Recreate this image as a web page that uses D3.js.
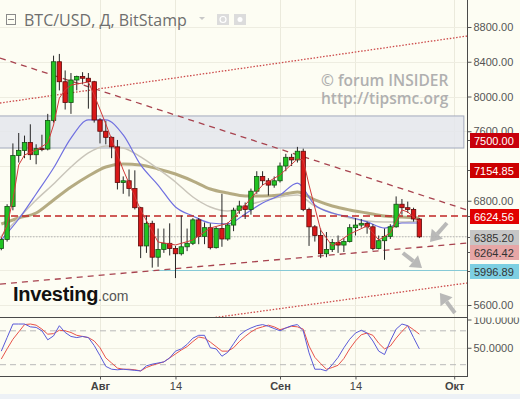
<!DOCTYPE html>
<html>
<head>
<meta charset="utf-8">
<script src="https://cdn.jsdelivr.net/npm/d3@7"></script>
<style>
  html, body { margin: 0; padding: 0; background: #fdfdf3; }
  svg { display: block; font-family: "Liberation Sans", Arial, sans-serif; }
</style>
</head>
<body>
<div id="chart"></div>
<script>
// ---- data (BTC/USD daily, BitStamp, 15 Jul - 25 Sep 2018) ----
var firstDay = "2018-07-15";
var lastDay = "2018-09-25";

var open = [6250,6355,6735,7320,7380,7470,7330,7400,7395,7725,8400,8170,7930,8190,8230,8210,8170,
  7730,7600,7530,7420,7010,7030,6940,6720,6280,6540,6150,6240,6310,6250,6190,6270,6310,6580,6390,6490,6260,6480,6360,6520,6690,6740,6700,6910,7080,7030,6980,
  7030,7200,7300,7270,7370,6700,6500,6400,6190,6240,6320,6290,6330,6490,6520,6540,6500,6250,6340,6390,6500,6760,6720,6700,6590];
var high = [6380,6760,7460,7580,7550,7680,7450,7560,7800,8470,8490,8300,8270,8240,8280,8270,8180,
  7750,7720,7540,7500,7080,7160,7150,6730,6630,6570,6480,6480,6540,6280,6630,6480,6600,6600,6550,6540,6500,6880,6550,6720,6800,6780,6940,7140,7140,7060,7080,
  7240,7340,7340,7420,7400,6720,6520,6480,6440,6360,6400,6370,6530,6600,6590,6560,6530,6400,6480,6530,6850,6820,6790,6720,6600];
var low = [6230,6330,6690,7240,7290,7270,7220,7370,7380,7700,8070,7850,7800,8070,8140,7860,7700,
  7460,7450,7290,6930,6880,6850,6700,6140,6200,6030,6040,6200,6170,5910,6170,6220,6290,6300,6300,6240,6250,6270,6340,6450,6650,6590,6640,6880,6980,6860,6950,
  7010,7140,7200,7240,6680,6280,6330,6140,6150,6210,6200,6210,6320,6400,6490,6420,6230,6240,6120,6360,6490,6640,6660,6560,6370];
var close = [6355,6735,7320,7380,7470,7330,7400,7395,7725,8400,8170,7930,8190,8230,8210,8170,7730,
  7600,7530,7420,7010,7030,6940,6720,6280,6540,6150,6240,6310,6250,6190,6270,6310,6580,6390,6490,6260,6480,6360,6520,6690,6740,6700,6910,7080,7030,6980,7030,
  7200,7300,7270,7370,6700,6500,6400,6190,6240,6320,6290,6330,6490,6520,6540,6500,6250,6340,6390,6500,6760,6720,6700,6590,6385];

// moving averages
var maFast = [["2018-07-15",6371],["2018-07-16",6521],["2018-07-17",6809],["2018-07-18",7212],["2018-07-19",7327],
  ["2018-07-21",7384],["2018-07-23",7465],["2018-07-24",7672],["2018-07-25",7983],["2018-07-26",8075],["2018-07-27",8132],
  ["2018-07-30",8167],["2018-07-31",8017],["2018-08-02",7684],["2018-08-05",7154],["2018-08-08",6694],["2018-08-11",6325],
  ["2018-08-14",6291],["2018-08-17",6348],["2018-08-20",6486],["2018-08-23",6540],["2018-08-26",6751],["2018-08-29",6981],
  ["2018-09-01",7097],["2018-09-04",7281],["2018-09-05",7269],["2018-09-06",6981],["2018-09-08",6463],["2018-09-10",6279],
  ["2018-09-13",6417],["2018-09-16",6510],["2018-09-18",6348],["2018-09-20",6429],["2018-09-22",6694],["2018-09-23",6671],["2018-09-25",6556]];
var maBlue = [["2018-07-15",6348],["2018-07-18",6590],["2018-07-21",6878],["2018-07-24",7177],["2018-07-27",7522],
  ["2018-07-30",7730],["2018-08-02",7730],["2018-08-05",7557],["2018-08-08",7212],["2018-08-11",6981],["2018-08-14",6728],
  ["2018-08-17",6625],["2018-08-20",6544],["2018-08-23",6533],["2018-08-26",6648],["2018-08-29",6774],["2018-09-01",6866],
  ["2018-09-04",7004],["2018-09-07",6751],["2018-09-10",6659],["2018-09-13",6613],["2018-09-16",6556],["2018-09-19",6486],
  ["2018-09-22",6544],["2018-09-25",6544]];
var maGray = [["2018-07-15",6394],["2018-07-18",6602],["2018-07-21",6809],["2018-07-24",6993],["2018-07-27",7189],
  ["2018-07-30",7350],["2018-08-02",7430],["2018-08-05",7407],["2018-08-08",7304],["2018-08-11",7166],["2018-08-14",7016],
  ["2018-08-17",6843],["2018-08-20",6728],["2018-08-23",6682],["2018-08-26",6740],["2018-08-29",6797],["2018-09-01",6843],
  ["2018-09-04",6866],["2018-09-07",6740],["2018-09-10",6659],["2018-09-13",6602],["2018-09-16",6567],["2018-09-19",6556],
  ["2018-09-22",6556],["2018-09-25",6567]];
var maOlive = [["2018-07-15",6532],["2018-07-18",6602],["2018-07-21",6659],["2018-07-24",6809],["2018-07-27",6958],
  ["2018-07-30",7085],["2018-08-02",7189],["2018-08-05",7223],["2018-08-08",7212],["2018-08-11",7166],["2018-08-14",7108],
  ["2018-08-17",7027],["2018-08-20",6935],["2018-08-23",6889],["2018-08-26",6855],["2018-08-29",6855],["2018-09-01",6866],
  ["2018-09-04",6901],["2018-09-07",6809],["2018-09-10",6740],["2018-09-13",6694],["2018-09-16",6659],["2018-09-19",6625],
  ["2018-09-22",6613],["2018-09-25",6602]];

// stochastic oscillator, one value per day
var stochK = [44,68,92,92,92,87,86,80,64,71,89,77,70,68,70,68,54,36,17,12,11,12,11,10,9,18,21,23,25,32,
  44,48,56,67,72,72,50,48,35,42,57,72,80,85,89,91,88,84,80,85,89,91,80,41,12,12,9,20,33,50,65,76,81,76,62,44,38,62,83,92,89,68,48];
var stochD = [30,48,65,78,91,92,90,83,74,75,81,80,77,72,70,68,62,50,32,23,14,12,12,11,9,15,19,22,25,32,
  39,46,52,61,69,67,60,52,44,44,50,61,70,78,84,87,90,87,82,85,88,87,83,53,33,22,12,15,19,31,48,62,73,76,72,58,48,53,67,79,89,82,74];

// axis ticks
var xTickDates = ["2018-08-01","2018-08-14","2018-09-01","2018-09-14","2018-10-01"];
var xTickLabels = ["Авг","14","Сен","14","Окт"];
var priceTicks = [5600,6000,6400,6800,7200,7600,8000,8400,8800];
var oscTicks = [50,100];
var oscBands = [20,80];

// drawn levels and trend lines
var resistanceZone = [7407, 7776];
var levelRed = 6624.56;
var levelLast = 6385.20;
var levelSupport = 5996.89;
var supportFrom = "2018-08-10 00:00";
var tagValues = [7500, 7154.85, 6624.56, 6385.20, 6264.42, 5996.89];
var trendDashed = [
  [["2018-07-14 18:40",8443],["2018-10-03 05:00",6694]],
  [["2018-07-14 18:40",5841],["2018-10-03 05:00",6313]]
];
var trendDotted = [
  [["2018-07-14 18:40",7925],["2018-10-03 05:00",8696]],
  [["2018-07-14 18:40",5117],["2018-10-03 05:00",5853]]
];
var arrows = [
  [["2018-09-29 18:00",6544],["2018-09-26 20:00",6325]],
  [["2018-09-22 04:00",6199],["2018-09-25 11:00",6026]],
  [["2018-10-01 03:00",5508],["2018-09-28 13:00",5738]]
];

// ---- layout ----
var W = 520, H = 399;
var plotRight = 467, mainBottom = 317, oscBottom = 376;
var parseDay = d3.timeParse("%Y-%m-%d");
var parseTime = d3.timeParse("%Y-%m-%d %H:%M");

var svg = d3.select("#chart")
  .append("svg")
  .attr("width", W)
  .attr("height", H);

svg.append("rect").attr("width", W).attr("height", H).attr("fill", "#fdfdf3");
svg.append("rect").attr("y", 394).attr("width", W).attr("height", 5).attr("fill", "#edf1f6");

var x = d3.scaleTime()
  .domain([parseDay("2018-08-01"), parseDay("2018-09-01")])
  .range([100, 280]);
var y = d3.scaleLinear().domain([5600, 8800]).range([305, 27]);
var yOsc = d3.scaleLinear().domain([0, 100]).range([376, 319.5]);

var days = d3.timeDay.range(parseDay(firstDay), d3.timeDay.offset(parseDay(lastDay), 1));
var candles = days.map(function (d, i) {
  return { date: d, open: open[i], high: high[i], low: low[i], close: close[i], k: stochK[i], d: stochD[i] };
});

var defs = svg.append("defs");
defs.append("clipPath").attr("id", "clipMain")
  .append("rect").attr("x", 0).attr("y", 0).attr("width", plotRight).attr("height", mainBottom);
defs.append("clipPath").attr("id", "clipOsc")
  .append("rect").attr("x", 0).attr("y", mainBottom).attr("width", plotRight).attr("height", oscBottom - mainBottom);
defs.append("clipPath").attr("id", "clipOscAxis")
  .append("rect").attr("x", plotRight).attr("y", mainBottom + 0.5).attr("width", W - plotRight).attr("height", 80);

//gridlines
var grid = svg.append("g");
grid.selectAll(".vgrid")
  .data(xTickDates)
  .enter()
  .append("line")
  .attr("x1", function (d) { return Math.round(x(parseDay(d))) + 0.5; })
  .attr("x2", function (d) { return Math.round(x(parseDay(d))) + 0.5; })
  .attr("y1", 0)
  .attr("y2", oscBottom)
  .style("stroke", "#ebeadc")
  .style("stroke-width", "1px");
grid.selectAll(".hgrid")
  .data(priceTicks)
  .enter()
  .append("line")
  .attr("x1", 0)
  .attr("x2", plotRight)
  .attr("y1", function (d) { return Math.round(y(d)) + 0.5; })
  .attr("y2", function (d) { return Math.round(y(d)) + 0.5; })
  .style("stroke", "#eeede1")
  .style("stroke-width", "1px");
grid.append("line")
  .attr("x1", 0).attr("x2", plotRight)
  .attr("y1", Math.round(yOsc(50)) + 0.5).attr("y2", Math.round(yOsc(50)) + 0.5)
  .style("stroke", "#eeede1");

var main = svg.append("g").attr("clip-path", "url(#clipMain)");

//resistance zone
main.append("rect")
  .attr("x", -1)
  .attr("width", x(parseTime("2018-10-02 16:00")) + 1)
  .attr("y", y(resistanceZone[1]))
  .attr("height", y(resistanceZone[0]) - y(resistanceZone[1]))
  .style("fill", "#e4e6ec")
  .style("fill-opacity", 0.85)
  .style("stroke", "#a3aabd")
  .style("stroke-width", "1px");

//horizontal levels
main.append("line")
  .attr("x1", 0).attr("x2", plotRight)
  .attr("y1", y(levelLast)).attr("y2", y(levelLast))
  .style("stroke", "#b5b5b5")
  .style("stroke-dasharray", "1.5,1.5");
main.append("line")
  .attr("x1", x(parseTime(supportFrom))).attr("x2", plotRight)
  .attr("y1", y(levelSupport)).attr("y2", y(levelSupport))
  .style("stroke", "#86c9d6")
  .style("stroke-width", "1.2px");

//moving averages
var maLine = d3.line()
  .x(function (d) { return x(parseDay(d[0])); })
  .y(function (d) { return y(d[1]); })
  .curve(d3.curveMonotoneX);
main.append("path").attr("d", maLine(maOlive))
  .style("fill", "none").style("stroke", "#ada276").style("stroke-width", "3px").style("stroke-opacity", 0.9);
main.append("path").attr("d", maLine(maGray))
  .style("fill", "none").style("stroke", "#c9c5ba").style("stroke-width", "1.5px");
main.append("path").attr("d", maLine(maBlue))
  .style("fill", "none").style("stroke", "#6f6fe0").style("stroke-width", "1.2px");

main.append("line")
  .attr("x1", 0).attr("x2", plotRight)
  .attr("y1", y(levelRed)).attr("y2", y(levelRed))
  .style("stroke", "#c02424")
  .style("stroke-width", "1.3px")
  .style("stroke-dasharray", "7,4");

//trend lines
var trendLine = d3.line()
  .x(function (d) { return x(parseTime(d[0])); })
  .y(function (d) { return y(d[1]); });
main.selectAll(".tdash")
  .data(trendDashed)
  .enter()
  .append("path")
  .attr("d", trendLine)
  .style("fill", "none")
  .style("stroke", "#a8434f")
  .style("stroke-width", "1.3px")
  .style("stroke-dasharray", "6,5");
main.selectAll(".tdot")
  .data(trendDotted)
  .enter()
  .append("path")
  .attr("d", trendLine)
  .style("fill", "none")
  .style("stroke", "#cc4a4a")
  .style("stroke-width", "1.3px")
  .style("stroke-dasharray", "1.5,1.7");

//candles
var bodyW = 4.4;
main.selectAll(".wick")
  .data(candles)
  .enter()
  .append("line")
  .attr("x1", function (d) { return x(d.date); })
  .attr("x2", function (d) { return x(d.date); })
  .attr("y1", function (d) { return y(d.high); })
  .attr("y2", function (d) { return y(d.low); })
  .style("stroke", "#262626")
  .style("stroke-width", "1px");
main.selectAll(".body")
  .data(candles)
  .enter()
  .append("rect")
  .attr("x", function (d) { return x(d.date) - bodyW / 2; })
  .attr("width", bodyW)
  .attr("y", function (d) { return y(Math.max(d.open, d.close)); })
  .attr("height", function (d) { return Math.max(1, Math.abs(y(d.open) - y(d.close))); })
  .style("fill", function (d) { return d.close >= d.open ? "#22c322" : "#d81818"; })
  .style("stroke", function (d) { return d.close >= d.open ? "#145214" : "#5e0a0a"; })
  .style("stroke-width", "0.8px");

main.append("path").attr("d", d3.line()
    .x(function (d) { return x(parseDay(d[0])); })
    .y(function (d) { return y(d[1]); })(maFast))
  .style("fill", "none").style("stroke", "#d23a3a").style("stroke-width", "1px");

//arrows
arrows.forEach(function (a) {
  var x0 = x(parseTime(a[0][0])), y0 = y(a[0][1]);
  var x1 = x(parseTime(a[1][0])), y1 = y(a[1][1]);
  var ang = Math.atan2(y1 - y0, x1 - x0);
  var headL = 11, headW = 7.5;
  var bx = x1 - headL * Math.cos(ang), by = y1 - headL * Math.sin(ang);
  var g = main.append("g").style("opacity", 0.9);
  g.append("line")
    .attr("x1", x0).attr("y1", y0).attr("x2", bx).attr("y2", by)
    .style("stroke", "#b2b2b2").style("stroke-width", "4px");
  g.append("polygon")
    .attr("points", [
      [x1, y1],
      [bx + headW * Math.sin(ang), by - headW * Math.cos(ang)],
      [bx - headW * Math.sin(ang), by + headW * Math.cos(ang)]
    ].map(function (p) { return p.join(","); }).join(" "))
    .style("fill", "#b2b2b2");
});

//oscillator
var osc = svg.append("g").attr("clip-path", "url(#clipOsc)");
osc.selectAll(".band")
  .data(oscBands)
  .enter()
  .append("line")
  .attr("x1", 0).attr("x2", plotRight)
  .attr("y1", function (d) { return yOsc(d); })
  .attr("y2", function (d) { return yOsc(d); })
  .style("stroke", "#b9b9b9")
  .style("stroke-dasharray", "6,4");
osc.append("path")
  .attr("d", d3.line().x(function (d) { return x(d.date); }).y(function (d) { return yOsc(d.d); })(candles))
  .style("fill", "none").style("stroke", "#e8534a").style("stroke-width", "1px");
osc.append("path")
  .attr("d", d3.line().x(function (d) { return x(d.date); }).y(function (d) { return yOsc(d.k); })(candles))
  .style("fill", "none").style("stroke", "#5a5ad8").style("stroke-width", "1px");

//panel frame
svg.append("line").attr("x1", 0).attr("x2", plotRight).attr("y1", mainBottom + 0.5).attr("y2", mainBottom + 0.5)
  .style("stroke", "#4a4a4a");
svg.append("line").attr("x1", 0).attr("x2", plotRight).attr("y1", oscBottom + 0.5).attr("y2", oscBottom + 0.5)
  .style("stroke", "#4a4a4a");
svg.append("line").attr("x1", plotRight + 0.5).attr("x2", plotRight + 0.5).attr("y1", 0).attr("y2", oscBottom + 1)
  .style("stroke", "#4a4a4a");

//price axis (labels hidden where a price tag sits on them)
var shownTicks = priceTicks.filter(function (t) {
  return tagValues.every(function (v) { return Math.abs(y(t) - y(v)) > 8; });
});
var yAxis = svg.append("g")
  .attr("transform", "translate(" + (plotRight + 0.5) + ",0)")
  .call(d3.axisRight(y).tickValues(shownTicks).tickSize(4).tickPadding(2).tickFormat(d3.format(".2f")));
yAxis.select(".domain").remove();
yAxis.selectAll("line").style("stroke", "#555");
yAxis.selectAll("text").style("font-size", "11px").style("fill", "#555").style("font-family", "Liberation Sans, Arial, sans-serif");

var oscAxis = svg.append("g")
  .attr("clip-path", "url(#clipOscAxis)")
  .append("g")
  .attr("transform", "translate(" + (plotRight + 0.5) + ",0)")
  .call(d3.axisRight(yOsc).tickValues(oscTicks).tickSize(4).tickPadding(2).tickFormat(d3.format(".4f")));
oscAxis.select(".domain").remove();
oscAxis.selectAll("line").style("stroke", "#555");
oscAxis.selectAll("text").style("font-size", "11px").style("fill", "#555").style("font-family", "Liberation Sans, Arial, sans-serif");

//price tags, pushed down when they would sit on the one above
var tagFill = ["#c8000c", "#cc0000", "#e10000", "#c6c6c6", "#e6a6a6", "#7dcfe2"];
var tagText = ["#fff", "#fff", "#fff", "#333", "#333", "#333"];
var tagH = 15;
var tagY = [];
tagValues.forEach(function (v, i) {
  var ty = Math.round(y(v));
  if (i > 0 && ty < tagY[i - 1] + tagH) ty = tagY[i - 1] + tagH;
  tagY.push(ty);
});
var tags = svg.selectAll(".tag")
  .data(tagValues)
  .enter()
  .append("g")
  .attr("transform", function (d, i) { return "translate(" + (plotRight + 1) + "," + tagY[i] + ")"; });
tags.append("line")
  .attr("x1", 0).attr("x2", 4).attr("y1", 0.5).attr("y2", 0.5)
  .style("stroke", "#555");
tags.append("rect")
  .attr("x", 2).attr("y", -7).attr("width", 49).attr("height", tagH)
  .style("fill", function (d, i) { return tagFill[i]; });
tags.append("text")
  .attr("x", 6).attr("y", 4.5)
  .style("font-size", "11px")
  .style("fill", function (d, i) { return tagText[i]; })
  .text(function (d) { return d3.format(".2f")(d); });

//time axis
var xAxis = svg.append("g")
  .attr("transform", "translate(0," + (oscBottom + 0.5) + ")")
  .call(d3.axisBottom(x).tickValues(xTickDates.map(parseDay)).tickSize(3).tickPadding(3)
    .tickFormat(function (d, i) { return xTickLabels[i]; }));
xAxis.select(".domain").remove();
xAxis.selectAll("line").style("stroke", "#555");
xAxis.selectAll("text")
  .style("font-size", "11px")
  .style("fill", "#444")
  .style("font-family", "Liberation Sans, Arial, sans-serif")
  .style("font-weight", function (d, i) { return i % 2 === 0 ? "bold" : "normal"; });

//header
var head = svg.append("g");
head.append("rect").attr("x", 6.5).attr("y", 14.5).attr("width", 9).attr("height", 10)
  .style("fill", "none").style("stroke", "#8a8a8a");
head.append("line").attr("x1", 8).attr("x2", 14).attr("y1", 19.5).attr("y2", 19.5).style("stroke", "#8a8a8a");
head.append("text")
  .attr("x", 24).attr("y", 25.5)
  .style("font-family", "Open Sans, DejaVu Sans, sans-serif")
  .style("font-size", "16px")
  .style("fill", "#6e6e6e")
  .text("BTC/USD, Д, BitStamp");
head.append("path").attr("d", "M199,17 L205,17 L202,20 Z").style("fill", "#c8c8c8");
head.append("rect").attr("x", 217).attr("y", 14).attr("width", 12).attr("height", 11).style("fill", "#dcdcdc");
head.append("rect").attr("x", 234).attr("y", 14).attr("width", 12).attr("height", 11).style("fill", "#dcdcdc");
head.append("circle").attr("cx", 223).attr("cy", 19.5).attr("r", 3).style("fill", "none").style("stroke", "#fff").style("stroke-width", "1.2px");
head.append("circle").attr("cx", 240).attr("cy", 19.5).attr("r", 2.5).style("fill", "#fff");

//watermark
var wm = svg.append("g")
  .style("font-family", "Open Sans, DejaVu Sans, sans-serif")
  .style("font-size", "15.5px")
  .style("font-weight", "600")
  .style("fill", "#b0b0b0");
wm.append("text").attr("x", 321).attr("y", 86).text("© forum INSIDER");
wm.append("text").attr("x", 321).attr("y", 104).text("http://tipsmc.org");

//Investing logo
var logo = svg.append("text")
  .attr("x", 13).attr("y", 301)
  .style("font-family", "Liberation Sans, Arial, sans-serif");
logo.append("tspan")
  .style("font-size", "20px")
  .style("font-weight", "bold")
  .style("fill", "#111")
  .style("letter-spacing", "-0.3px")
  .text("Investing");
logo.append("tspan")
  .style("font-size", "14px")
  .style("fill", "#555")
  .text(".com");
</script>
</body>
</html>
